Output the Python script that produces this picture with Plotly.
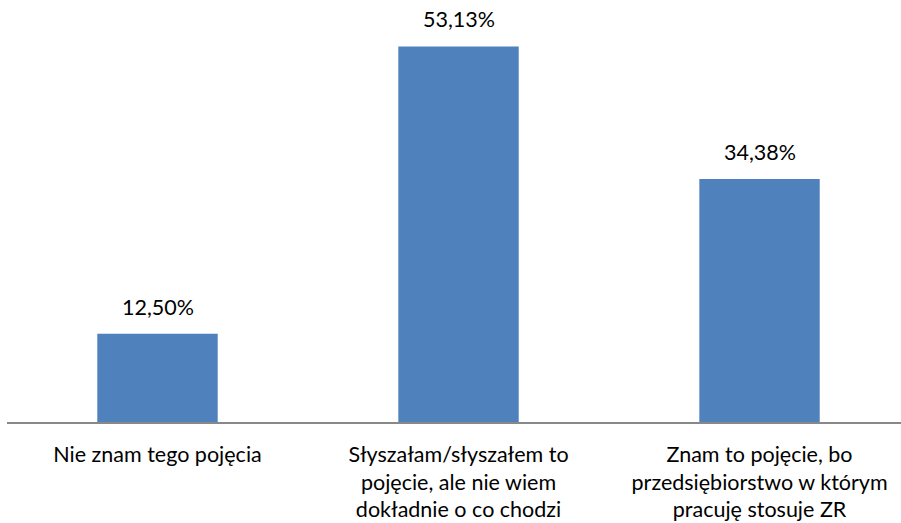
import plotly.graph_objects as go

categories = [
    "Nie znam tego pojęcia",
    "Słyszałam/słyszałem to<br>pojęcie, ale nie wiem<br>dokładnie o co chodzi",
    "Znam to pojęcie, bo<br>przedsiębiorstwo w którym<br>pracuję stosuje ZR",
]
values = [12.50, 53.13, 34.38]
labels = ["12,50%", "53,13%", "34,38%"]

FONT = "Lato, 'Open Sans', sans-serif"
FS = 21.5

fig = go.Figure(
    go.Bar(
        x=list(range(len(categories))),
        y=values,
        marker=dict(color="#4F81BD", line=dict(width=0)),
        hoverinfo="skip",
    )
)

for i, (v, t) in enumerate(zip(values, labels)):
    fig.add_annotation(
        x=i, y=v, text=t, showarrow=False, yanchor="bottom", yshift=12,
        font=dict(family=FONT, size=FS, color="#000000"),
    )

fig.update_layout(
    width=901, height=523,
    margin=dict(l=7, r=0, t=0, b=101),
    paper_bgcolor="white", plot_bgcolor="white",
    bargap=0.6,
    showlegend=False,
    font=dict(family=FONT, size=FS, color="#000000"),
    xaxis=dict(
        range=[-0.5, 2.47],
        tickmode="array", tickvals=list(range(len(categories))), ticktext=categories,
        showline=True, linecolor="#888888", linewidth=1.5,
        showgrid=False, zeroline=False, ticks="outside", ticklen=12, tickcolor="rgba(0,0,0,0)",
        tickfont=dict(family=FONT, size=FS, color="#000000"),
    ),
    yaxis=dict(range=[0, 59.7], visible=False, showgrid=False, zeroline=False),
)

fig.write_html("out.html")
